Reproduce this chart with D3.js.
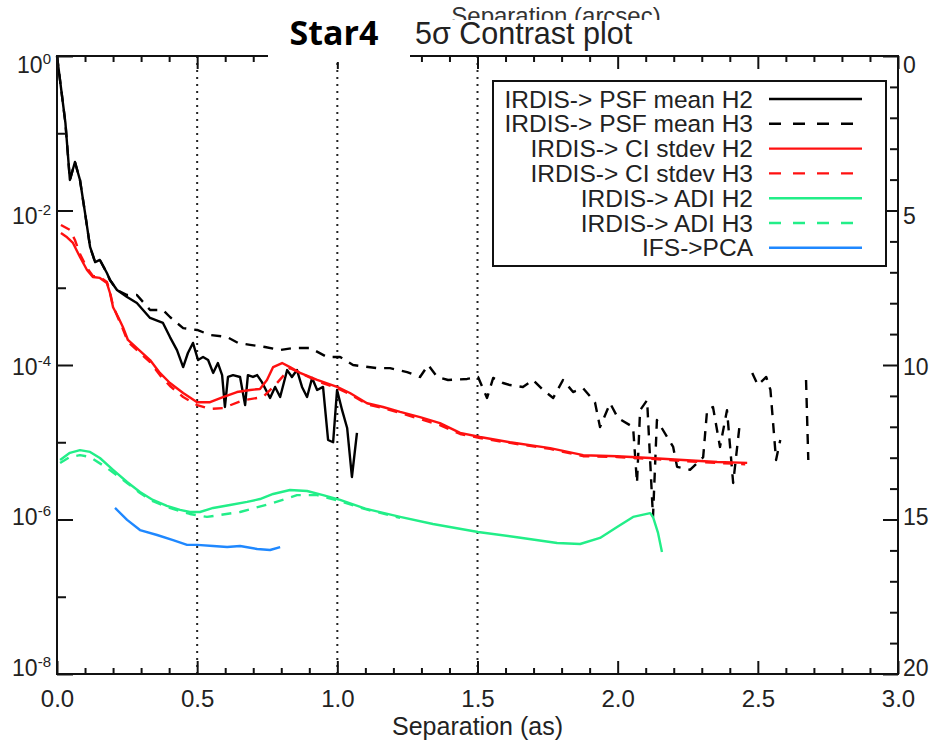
<!DOCTYPE html>
<html>
<head>
<meta charset="utf-8">
<script src="https://cdn.jsdelivr.net/npm/d3@7"></script>
<style>
  body { margin: 0; background: #fff; }
  svg text { font-family: "Liberation Sans", Arial, sans-serif; }
</style>
</head>
<body>
<svg id="chart" width="937" height="740"></svg>
<script>
// contrast curves, [separation (as), 5 sigma contrast]
var psfMeanH2 = [[0,1],[0.03,0.136],[0.046,0.0248],[0.064,0.0425],[0.082,0.0248],[0.10,0.0093],[0.118,0.00337],
  [0.136,0.00215],[0.153,0.00229],[0.178,0.00155],[0.189,0.00126],[0.214,9.35e-4],[0.25,7.6e-4],[0.285,6.35e-4],
  [0.332,4.06e-4],[0.378,3.5e-4],[0.403,2.3e-4],[0.428,1.56e-4],[0.45,9.4e-5],[0.467,1.43e-4],[0.485,1.93e-4],
  [0.503,1.16e-4],[0.521,1.27e-4],[0.539,1.16e-4],[0.557,7.9e-5],[0.574,1.06e-4],[0.589,7.4e-5],[0.599,2.86e-5],
  [0.61,7.0e-5],[0.628,7.4e-5],[0.653,7.0e-5],[0.671,3.03e-5],[0.681,7.4e-5],[0.699,7.0e-5],[0.714,7.4e-5],
  [0.731,6.0e-5],[0.76,3.74e-5],[0.778,5.2e-5],[0.796,3.85e-5],[0.821,8.6e-5],[0.838,7.0e-5],[0.856,8.6e-5],
  [0.874,5.2e-5],[0.892,3.85e-5],[0.91,6.8e-5],[0.928,4.75e-5],[0.949,5.2e-5],[0.967,1.07e-5],[0.985,1.0e-5],
  [0.999,4.75e-5],[1.017,2.6e-5],[1.035,1.53e-5],[1.052,3.55e-6],[1.07,1.32e-5]];

var psfMeanH3 = [[0,1],[0.03,0.136],[0.046,0.0248],[0.064,0.0425],[0.082,0.0248],[0.10,0.0093],[0.118,0.00337],
  [0.136,0.00215],[0.153,0.00229],[0.178,0.00155],[0.189,0.00126],[0.214,9.35e-4],[0.25,8.05e-4],[0.285,8.05e-4],
  [0.332,5.15e-4],[0.378,5.15e-4],[0.403,4.18e-4],[0.45,3.0e-4],[0.50,2.84e-4],[0.546,2.45e-4],[0.607,2.3e-4],
  [0.646,1.93e-4],[0.689,1.82e-4],[0.742,1.71e-4],[0.796,1.56e-4],[0.842,1.66e-4],[0.903,1.66e-4],[0.963,1.27e-4],
  [1.01,1.27e-4],[1.056,1.0e-4],[1.142,9.1e-5],[1.188,9.1e-5],[1.249,8.1e-5],[1.295,7.0e-5],[1.324,1.0e-4],
  [1.356,7.0e-5],[1.395,6.4e-5],[1.463,6.6e-5],[1.502,7.0e-5],[1.534,3.74e-5],[1.556,6.8e-5],[1.591,5.85e-5],
  [1.616,5.5e-5],[1.662,5.2e-5],[1.698,6.4e-5],[1.734,4.75e-5],[1.77,3.74e-5],[1.805,6.4e-5],[1.841,4.47e-5],
  [1.877,5.0e-5],[1.919,3.3e-5],[1.937,1.57e-5],[1.973,3.2e-5],[2.001,2.06e-5],[2.055,1.57e-5],[2.069,2.97e-6],
  [2.08,2.6e-5],[2.105,3.5e-5],[2.126,1.08e-6],[2.14,1.94e-5],[2.198,8.7e-6],[2.212,4.8e-6],[2.258,4.4e-6],
  [2.305,6.4e-6],[2.319,2.6e-5],[2.34,2.86e-5],[2.365,8.7e-6],[2.39,2.6e-5],[2.412,2.97e-6],[2.437,1.94e-5],
  [2.46,null],[2.48,7.9e-5],[2.50,5.5e-5],[2.53,7.0e-5],[2.545,4.75e-5],[2.565,5.9e-6],[2.58,1.07e-5],
  [2.62,null],[2.672,6.4e-5],[2.68,5.9e-6]];

var ciStdevH2 = [[0.014,5.1e-3],[0.036,4.5e-3],[0.057,3.8e-3],[0.082,2.5e-3],[0.107,1.7e-3],[0.128,1.38e-3],
  [0.153,1.34e-3],[0.178,1.15e-3],[0.189,8.55e-4],[0.2,5.6e-4],[0.218,4.18e-4],[0.235,3.1e-4],[0.253,2.11e-4],
  [0.332,1.16e-4],[0.367,7.9e-5],[0.403,5.85e-5],[0.45,4.34e-5],[0.5,3.3e-5],[0.546,3.3e-5],[0.592,3.85e-5],
  [0.642,4.47e-5],[0.689,4.75e-5],[0.724,4.9e-5],[0.749,6.4e-5],[0.771,9.4e-5],[0.803,1.06e-4],[0.831,9.4e-5],
  [0.867,7.9e-5],[0.928,6.4e-5],[0.999,5.2e-5],[1.045,4.34e-5],[1.106,3.2e-5],[1.163,2.86e-5],[1.224,2.47e-5],
  [1.295,2.12e-5],[1.366,1.77e-5],[1.438,1.32e-5],[1.509,1.17e-5],[1.616,1.0e-5],[1.759,8.4e-6],[1.877,6.8e-6],
  [1.998,6.6e-6],[2.116,6.25e-6],[2.233,5.9e-6],[2.355,5.55e-6],[2.462,5.4e-6]];

var ciStdevH3 = [[0.014,6.5e-3],[0.046,5.6e-3],[0.064,4.15e-3],[0.082,2.73e-3],[0.107,1.8e-3],[0.128,1.42e-3],
  [0.153,1.38e-3],[0.178,1.19e-3],[0.189,8.8e-4],[0.2,5.8e-4],[0.218,4.06e-4],[0.235,2.92e-4],[0.253,1.99e-4],
  [0.332,1.09e-4],[0.367,7.4e-5],[0.403,5.35e-5],[0.45,3.85e-5],[0.5,3.03e-5],[0.546,2.7e-5],[0.592,2.77e-5],
  [0.664,3.5e-5],[0.735,3.85e-5],[0.785,5.85e-5],[0.831,9.1e-5],[0.867,7.9e-5],[0.928,6.2e-5],[0.999,5.0e-5],
  [1.045,4.2e-5],[1.106,3.1e-5],[1.163,2.77e-5],[1.224,2.39e-5],[1.295,2.0e-5],[1.366,1.67e-5],[1.438,1.28e-5],
  [1.509,1.13e-5],[1.616,9.8e-6],[1.759,8.2e-6],[1.877,6.6e-6],[1.998,6.45e-6],[2.116,6.1e-6],[2.233,5.7e-6],
  [2.355,5.4e-6],[2.455,5.2e-6]];

var adiH2 = [[0.011,5.9e-6],[0.046,7.3e-6],[0.082,7.9e-6],[0.118,7.5e-6],[0.153,6.25e-6],[0.2,4.4e-6],[0.25,3.06e-6],
  [0.296,2.27e-6],[0.342,1.79e-6],[0.392,1.5e-6],[0.439,1.33e-6],[0.474,1.25e-6],[0.51,1.25e-6],[0.557,1.41e-6],
  [0.617,1.54e-6],[0.678,1.69e-6],[0.724,1.84e-6],[0.771,2.14e-6],[0.831,2.41e-6],[0.892,2.34e-6],[0.949,2.07e-6],
  [1.01,1.79e-6],[1.1,1.38e-6],[1.224,1.08e-6],[1.341,8.75e-7],[1.502,6.9e-7],[1.641,5.9e-7],[1.784,4.96e-7],
  [1.866,4.82e-7],[1.937,5.77e-7],[1.998,8.0e-7],[2.055,1.08e-6],[2.116,1.21e-6],[2.126,1.08e-6],[2.144,6.7e-7],
  [2.158,3.8e-7]];

var adiH3 = [[0.011,5.4e-6],[0.046,6.45e-6],[0.082,6.8e-6],[0.118,6.45e-6],[0.178,4.65e-6],[0.25,2.97e-6],
  [0.296,2.2e-6],[0.342,1.73e-6],[0.392,1.45e-6],[0.474,1.18e-6],[0.535,1.08e-6],[0.653,1.25e-6],[0.771,1.64e-6],
  [0.856,2.07e-6],[0.928,2.07e-6],[1.01,1.73e-6],[1.1,1.36e-6],[1.224,1.05e-6]];

var ifsPca = [[0.207,1.41e-6],[0.25,9.9e-7],[0.296,7.3e-7],[0.357,6.3e-7],[0.414,5.4e-7],[0.464,4.7e-7],[0.5,4.7e-7],
  [0.557,4.54e-7],[0.607,4.4e-7],[0.653,4.54e-7],[0.714,4.15e-7],[0.76,4.03e-7],[0.796,4.4e-7]];

var legendNames = ["IRDIS-> PSF mean H2", "IRDIS-> PSF mean H3", "IRDIS-> CI stdev H2", "IRDIS-> CI stdev H3",
  "IRDIS-> ADI H2", "IRDIS-> ADI H3", "IFS->PCA"];

var xMajorTicks = [0, 0.5, 1, 1.5, 2, 2.5, 3];
var yLabelExps = [0, -2, -4, -6, -8];
var yMinorExps = [-1, -3, -5, -7];
var magTicks = [0, 5, 10, 15, 20];
var dottedSeps = [0.5, 1.0, 1.5];

var series = [
  {data: psfMeanH2, color: "#000", dash: null},
  {data: psfMeanH3, color: "#000", dash: "10,8"},
  {data: ciStdevH2, color: "#ff1010", dash: null},
  {data: ciStdevH3, color: "#ff1010", dash: "10,8"},
  {data: adiH2, color: "#22ee88", dash: null},
  {data: adiH3, color: "#22ee88", dash: "10,8"},
  {data: ifsPca, color: "#1f88ff", dash: null}
];

var svg = d3.select("#chart");
var plotL = 57, plotR = 898, plotT = 56, plotB = 674;

var x = d3.scaleLinear().domain([0, 3]).range([plotL, plotR]);
var y = d3.scaleLog().domain([1e-8, 1]).range([plotB, plotT]);
var mag = d3.scaleLinear().domain([0, 20]).range([plotT, plotB]);

// dotted separation guides
svg.append("g").selectAll("line").data(dottedSeps).enter().append("line")
  .attr("x1", d => x(d)).attr("x2", d => x(d))
  .attr("y1", plotT).attr("y2", plotB)
  .attr("stroke", "#222").attr("stroke-width", 2).attr("stroke-dasharray", "2,5");

// curves
var line = d3.line()
  .defined(d => d[1] != null)
  .x(d => x(d[0]))
  .y(d => y(d[1]));

svg.append("g").selectAll("path").data(series).enter().append("path")
  .attr("d", d => line(d.data))
  .attr("fill", "none")
  .attr("stroke", d => d.color)
  .attr("stroke-width", 2.4)
  .attr("stroke-linejoin", "round")
  .attr("stroke-dasharray", d => d.dash);

// axes: ticks point inward
var xMinor = d3.range(1, 30).filter(i => i % 5 != 0).map(i => i / 10);

function styleAxis(g) {
  g.select(".domain").remove();
  g.selectAll(".tick line").attr("stroke", "#111").attr("stroke-width", 2);
}

svg.append("g").attr("transform", "translate(0," + plotB + ")")
  .call(d3.axisBottom(x).tickValues(xMajorTicks).tickSize(-13).tickPadding(16).tickFormat(d3.format(".1f")))
  .call(styleAxis)
  .selectAll("text").attr("font-size", 24).attr("fill", "#222")
  .attr("font-family", "Liberation Sans, Arial, sans-serif");
svg.append("g").attr("transform", "translate(0," + plotB + ")")
  .call(d3.axisBottom(x).tickValues(xMinor).tickSize(-6).tickFormat(""))
  .call(styleAxis);
svg.append("g").attr("transform", "translate(0," + plotT + ")")
  .call(d3.axisTop(x).tickValues(xMajorTicks).tickSize(-13).tickFormat(""))
  .call(styleAxis);
svg.append("g").attr("transform", "translate(0," + plotT + ")")
  .call(d3.axisTop(x).tickValues(xMinor).tickSize(-6).tickFormat(""))
  .call(styleAxis);

svg.append("g").attr("transform", "translate(" + plotL + ",0)")
  .call(d3.axisLeft(y).tickValues(yLabelExps.map(e => Math.pow(10, e))).tickSize(-16).tickFormat(""))
  .call(styleAxis);
svg.append("g").attr("transform", "translate(" + plotL + ",0)")
  .call(d3.axisLeft(y).tickValues(yMinorExps.map(e => Math.pow(10, e))).tickSize(-9).tickFormat(""))
  .call(styleAxis);

var magMinor = d3.range(1, 20).filter(v => v % 5 != 0);
svg.append("g").attr("transform", "translate(" + plotR + ",0)")
  .call(d3.axisRight(mag).tickValues(magTicks).tickSize(-15).tickFormat(""))
  .call(styleAxis);
svg.append("g").attr("transform", "translate(" + plotR + ",0)")
  .call(d3.axisRight(mag).tickValues(magMinor).tickSize(-8).tickFormat(""))
  .call(styleAxis);

// frame
svg.append("rect")
  .attr("x", plotL).attr("y", plotT)
  .attr("width", plotR - plotL).attr("height", plotB - plotT)
  .attr("fill", "none").attr("stroke", "#111").attr("stroke-width", 2);

// label centres drift a little from the ticks in the original
function labelShift(frac) { return 9 - 15 * frac; }

// left labels, 10 with superscript exponent
var yLab = svg.append("g").selectAll("text").data(yLabelExps).enter().append("text")
  .attr("x", 51)
  .attr("y", d => y(Math.pow(10, d)) + labelShift(-d / 8) + 8)
  .attr("text-anchor", "end")
  .attr("fill", "#222")
  .attr("font-size", 23);
yLab.append("tspan").text("10");
yLab.append("tspan").attr("dy", -9).attr("font-size", 15).text(d => d == 0 ? "0" : "-" + (-d));

// right labels
svg.append("g").selectAll("text").data(magTicks).enter().append("text")
  .attr("x", plotR + 5)
  .attr("y", d => mag(d) + labelShift(d / 20) + 8)
  .attr("fill", "#222")
  .attr("font-size", 23)
  .text(d => d);

// axis titles
svg.append("text")
  .attr("x", (plotL + plotR) / 2).attr("y", 735)
  .attr("text-anchor", "middle").attr("font-size", 25).attr("fill", "#222")
  .text("Separation (as)");

svg.append("text")
  .attr("x", 556).attr("y", 24)
  .attr("text-anchor", "middle").attr("font-size", 24).attr("fill", "#333")
  .text("Separation (arcsec)");

// legend
var legX = 493, legY = 81, legW = 393, legH = 185, rowY0 = 99, rowStep = 24.8;
svg.append("rect")
  .attr("x", legX).attr("y", legY).attr("width", legW).attr("height", legH)
  .attr("fill", "#fff").attr("stroke", "#111").attr("stroke-width", 2);

var leg = svg.append("g").selectAll("g").data(series).enter().append("g")
  .attr("transform", (d, i) => "translate(0," + (rowY0 + i * rowStep) + ")");
leg.append("text")
  .attr("x", 753).attr("y", 8.5)
  .attr("text-anchor", "end").attr("font-size", 24.5).attr("fill", "#222")
  .text((d, i) => legendNames[i]);
leg.append("line")
  .attr("x1", 769).attr("x2", 862)
  .attr("stroke", d => d.color).attr("stroke-width", 2.4)
  .attr("stroke-dasharray", d => d.dash ? "12,12" : null);

// white patches pasted over the top of the figure
svg.append("rect").attr("x", 410).attr("y", 20).attr("width", 290).attr("height", 32).attr("fill", "#fff");
svg.append("rect").attr("x", 268).attr("y", 14).attr("width", 142).attr("height", 48).attr("fill", "#fff");

svg.append("text")
  .attr("x", 415).attr("y", 44)
  .attr("font-size", 30.5).attr("fill", "#222")
  .text("5\u03c3 Contrast plot");

svg.append("text")
  .attr("x", 334).attr("y", 45)
  .attr("text-anchor", "middle")
  .attr("font-size", 34).attr("font-weight", 700)
  .style("font-family", "'Open Sans', Lato, sans-serif")
  .attr("fill", "#000")
  .text("Star4");
</script>
</body>
</html>
